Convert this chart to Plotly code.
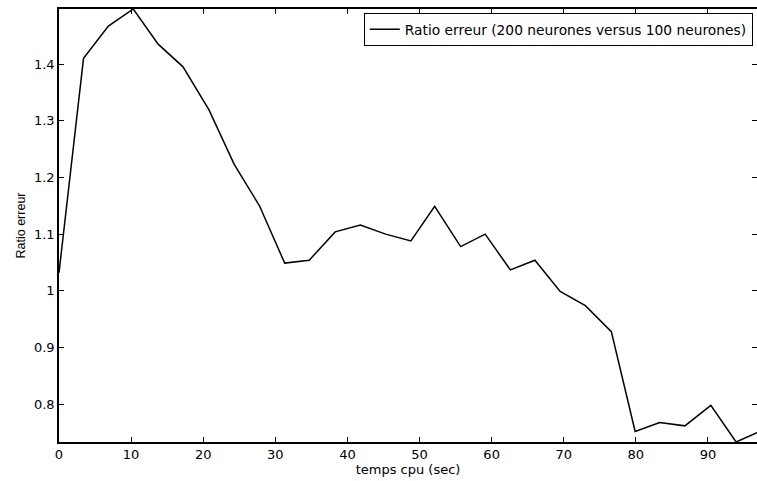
import plotly.graph_objects as go

# Data
temps_cpu = [0, 3.4, 6.85, 10.3, 13.75, 17.2, 20.8, 24.3, 27.8, 31.3, 34.7, 38.3,
             41.8, 45.3, 48.8, 52.1, 55.7, 59.1, 62.6, 66.0, 69.5, 73.0, 76.6,
             79.9, 83.3, 86.8, 90.4, 93.9, 96.8]
ratio_erreur = [1.032, 1.410, 1.467, 1.497, 1.435, 1.395, 1.319, 1.223, 1.150,
                1.049, 1.054, 1.104, 1.116, 1.100, 1.088, 1.149, 1.078, 1.100,
                1.037, 1.054, 0.999, 0.974, 0.928, 0.752, 0.768, 0.762, 0.798,
                0.7335, 0.750]
x_ticks = [0, 10, 20, 30, 40, 50, 60, 70, 80, 90]
y_ticks = [0.8, 0.9, 1.0, 1.1, 1.2, 1.3, 1.4]
y_tick_labels = ["0.8", "0.9", "1", "1.1", "1.2", "1.3", "1.4"]
series_name = "Ratio erreur (200 neurones versus 100 neurones)"

fig = go.Figure()
fig.add_trace(go.Scatter(
    x=temps_cpu, y=ratio_erreur, mode="lines", name=series_name,
    line=dict(color="black", width=1.5),
))

axis_common = dict(
    showline=True, linecolor="black", linewidth=1.5, mirror="ticks",
    ticks="inside", ticklen=5, tickwidth=1, tickcolor="black",
    showgrid=False, zeroline=False,
    tickfont=dict(family="DejaVu Sans", size=13, color="black"),
)

fig.update_layout(
    width=757, height=481,
    margin=dict(l=59, r=0, t=9, b=39, autoexpand=False),
    paper_bgcolor="white", plot_bgcolor="white",
    showlegend=True,
    legend=dict(
        x=0.994, y=0.991, xanchor="right", yanchor="top",
        bordercolor="black", borderwidth=1, bgcolor="white",
        font=dict(family="DejaVu Sans", size=13.8, color="black"),
        tracegroupgap=0, itemwidth=30,
    ),
    xaxis=dict(range=[0, 96.8], tickvals=x_ticks,
               title=dict(text="temps cpu (sec)", standoff=1,
                          font=dict(family="DejaVu Sans", size=13, color="black")),
               **axis_common),
    yaxis=dict(range=[0.7335, 1.497], tickvals=y_ticks, ticktext=y_tick_labels,
               title=dict(text="Ratio erreur", standoff=6,
                          font=dict(family="Liberation Sans", size=12.5, color="black")),
               **axis_common),
)

fig.write_html(
    "out.html",
    config={"displayModeBar": False},
    post_script="document.body.style.margin='0';document.body.style.overflow='hidden';",
)
